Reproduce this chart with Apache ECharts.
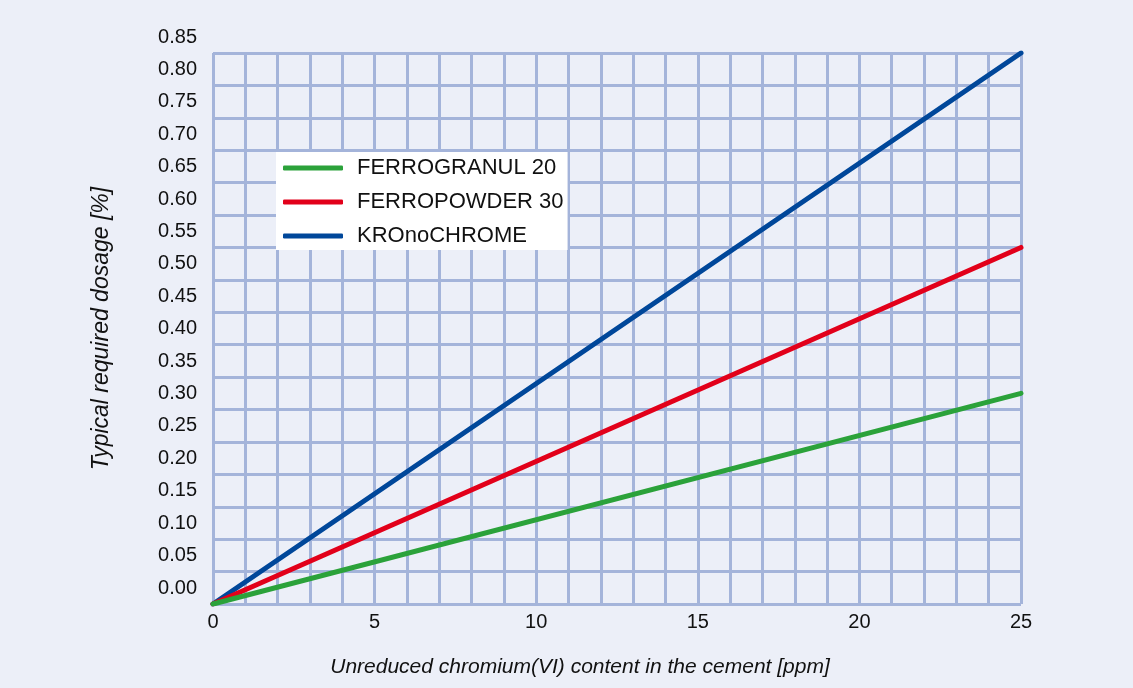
<!DOCTYPE html>
<html>
<head>
<meta charset="utf-8">
<script src="https://cdn.jsdelivr.net/npm/echarts@6/dist/echarts.min.js"></script>
<style>
  html, body { margin: 0; padding: 0; background: #eceff8; }
  #box { width: 1133px; height: 688px; }
</style>
</head>
<body>
<div id="box"></div>
<script>
  // chromium(VI) content in ppm
  const chromium = [0, 25];
  // typical required dosage, %
  const ferrogranul = [0, 0.325];
  const ferropowder = [0, 0.55];
  const kronochrome = [0, 0.85];
  const seriesNames = ['FERROGRANUL 20', 'FERROPOWDER 30', 'KROnoCHROME'];

  const gridColor = '#a4b4da';
  const font = '"Liberation Sans", Arial, sans-serif';

  const pairs = (ys) => chromium.map((x, i) => [x, ys[i]]);

  const chart = echarts.init(document.getElementById('box'));
  chart.setOption({
    backgroundColor: '#eceff8',
    animation: false,
    grid: { left: 213, right: 112, top: 53, bottom: 84 },
    legend: {
      data: seriesNames,
      orient: 'vertical',
      left: 276,
      top: 152,
      backgroundColor: '#ffffff',
      padding: [5, 4, 3, 7],
      itemGap: 12,
      itemWidth: 60,
      itemHeight: 5,
      icon: 'roundRect',
      textStyle: {
        fontFamily: font,
        fontSize: 22,
        color: '#111',
        lineHeight: 20,
        padding: [0, 0, 0, 9],
      },
    },
    xAxis: {
      type: 'value',
      min: 0,
      max: 25,
      interval: 1,
      name: 'Unreduced chromium(VI) content in the cement [ppm]',
      nameLocation: 'middle',
      nameGap: 53,
      nameTextStyle: {
        fontFamily: font,
        fontSize: 21,
        fontStyle: 'italic',
        color: '#111',
        padding: [0, 74, 0, 0],
      },
      axisLine: { show: false },
      axisTick: { show: false },
      axisLabel: {
        fontFamily: font,
        fontSize: 20,
        color: '#111',
        margin: 8,
        formatter: (v) => (v % 5 === 0 ? String(v) : ''),
      },
      splitLine: { show: true, lineStyle: { color: gridColor, width: 3 } },
    },
    yAxis: {
      type: 'value',
      min: 0,
      max: 0.85,
      interval: 0.05,
      name: 'Typical required dosage [%]',
      nameLocation: 'middle',
      nameGap: 100,
      nameTextStyle: {
        fontFamily: font,
        fontSize: 23,
        fontStyle: 'italic',
        color: '#111',
      },
      axisLine: { show: false },
      axisTick: { show: false },
      axisLabel: {
        fontFamily: font,
        fontSize: 20,
        color: '#111',
        margin: 16,
        verticalAlign: 'bottom',
        lineHeight: 32,
        showMinLabel: true,
        showMaxLabel: true,
        formatter: (v) => v.toFixed(2),
      },
      splitLine: { show: true, lineStyle: { color: gridColor, width: 3 } },
    },
    series: [
      {
        name: 'KROnoCHROME',
        type: 'line',
        data: pairs(kronochrome),
        symbol: 'none',
        color: '#00479a',
        lineStyle: { width: 5, cap: 'round' },
      },
      {
        name: 'FERROPOWDER 30',
        type: 'line',
        data: pairs(ferropowder),
        symbol: 'none',
        color: '#e2001a',
        lineStyle: { width: 5, cap: 'round' },
      },
      {
        name: 'FERROGRANUL 20',
        type: 'line',
        data: pairs(ferrogranul),
        symbol: 'none',
        color: '#2ba23a',
        lineStyle: { width: 5, cap: 'round' },
      },
    ],
  });
</script>
</body>
</html>
